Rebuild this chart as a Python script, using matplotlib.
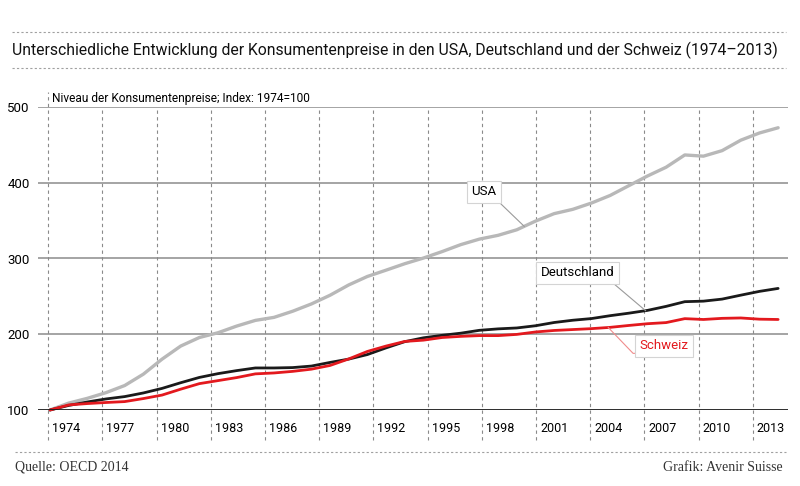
import matplotlib.pyplot as plt
import numpy as np
from matplotlib.lines import Line2D
from matplotlib.transforms import offset_copy

# Konsumentenpreise, Index 1974 = 100 (Quelle: OECD 2014)
years = np.arange(1974, 2014)
usa = [100, 109.1, 115.4, 122.9, 132.3, 147.3, 167.1, 184.4, 195.7, 202.0,
       210.8, 218.3, 222.3, 230.4, 240.0, 251.5, 265.1, 276.3, 284.6, 293.1,
       300.6, 309.1, 318.3, 325.6, 330.6, 337.9, 349.3, 359.2, 364.9, 373.2,
       383.2, 396.1, 408.9, 420.5, 436.7, 435.1, 442.4, 456.2, 465.7, 472.6]
deutschland = [100, 106.0, 110.6, 114.6, 117.7, 122.5, 128.5, 136.0, 143.0, 148.0,
               152.0, 155.5, 155.5, 156.0, 158.0, 162.8, 167.2, 173.2, 182.0, 190.2,
               195.3, 198.6, 201.4, 205.2, 207.1, 208.3, 211.2, 215.5, 218.5, 220.7,
               224.5, 227.8, 231.5, 236.8, 243.0, 243.7, 246.4, 251.6, 256.6, 260.5]
schweiz = [100, 106.7, 108.5, 109.9, 111.1, 115.1, 119.7, 127.5, 134.8, 138.8,
           142.8, 147.7, 148.9, 151.0, 153.9, 158.8, 167.4, 177.3, 184.4, 190.5,
           192.2, 195.7, 197.2, 198.2, 198.2, 199.8, 203.0, 205.0, 206.2, 207.4,
           209.1, 211.6, 213.9, 215.4, 220.6, 219.5, 221.0, 221.5, 219.9, 219.5]

tick_years = np.arange(1974, 2014, 3)
y_ticks = [100, 200, 300, 400, 500]

SANS = ['Roboto', 'DejaVu Sans']
SERIF = ['Liberation Serif', 'DejaVu Serif']

fig = plt.figure(figsize=(8, 4.86), dpi=100)
ax = fig.add_axes([38 / 800, 76 / 486, 750 / 800, 303 / 486])
ax.set_xlim(1974 - 12 / 18.67, 1974 + 738 / 18.67)
ax.set_ylim(100, 500)
for s in ax.spines.values():
    s.set_visible(False)

# the year labels in the original sit a little tighter than the data points
tick_pos = 1974 - 0.1 + (tick_years - 1974) * (18.07 / 18.67)

# --- grid ---
for v in y_ticks[1:]:
    ax.axhline(v, color='#8c8c8c', lw=1.1, zorder=1)
ax.vlines(tick_pos[1:], 60, 500, colors='#8a8a8a', lw=0.8,
          linestyles=(0, (3, 3)), clip_on=False, zorder=1)
ax.vlines(tick_pos[0], 60, 520, colors='#8a8a8a', lw=0.8,
          linestyles=(0, (3, 3)), clip_on=False, zorder=1)

# --- series ---
ax.plot(years, usa, color='#b8b8b8', lw=2.4, solid_capstyle='round', clip_on=False, zorder=3)
ax.plot(years, deutschland, color='#1a1a1a', lw=2.0, solid_capstyle='round', clip_on=False, zorder=4)
ax.plot(years, schweiz, color='#e3191e', lw=2.0, solid_capstyle='round', clip_on=False, zorder=4)
ax.axhline(100, color='#1a1a1a', lw=2.0, zorder=5)

# --- ticks ---
ax.set_xticks([])
ax.set_yticks(y_ticks)
ax.tick_params(axis='y', length=0, pad=6, labelsize=9.5)
for lab in ax.get_yticklabels():
    lab.set_family(SANS)
shifted = offset_copy(ax.transData, fig, x=4, y=0, units='dots')
for p, yr in zip(tick_pos, tick_years):
    ax.text(p, 76, str(yr), transform=shifted, ha='left', va='center',
            fontsize=9, family=SANS)

ax.text(tick_pos[0], 511, 'Niveau der Konsumentenpreise; Index: 1974=100',
        transform=shifted, ha='left', va='center', fontsize=8.6, family=SANS)

# --- labels with leader lines ---
box = dict(boxstyle='square,pad=0.35', fc='white', ec='#d4d4d4', lw=0.8)
ax.plot([1996.66, 1997.99, 1999.4], [375.9, 375.9, np.interp(1999.4, years, usa)],
        color='#9a9a9a', lw=0.8, zorder=6)
ax.text(1997.25, 387.8, 'USA', ha='center', va='center', fontsize=9.5,
        family=SANS, bbox=box, zorder=7)

ax.plot([2000.5, 2004.15, 2005.9], [267.7, 267.7, np.interp(2005.9, years, deutschland)],
        color='#9a9a9a', lw=0.8, zorder=6)
ax.text(2002.28, 280.9, 'Deutschland', ha='center', va='center', fontsize=9.5,
        family=SANS, bbox=box, zorder=7)

ax.plot([2008.17, 2005.23, 2003.9], [174.8, 174.8, np.interp(2003.9, years, schweiz)],
        color='#f08c8c', lw=0.8, zorder=6)
ax.text(2006.9, 184.5, 'Schweiz', ha='center', va='center', fontsize=9.5,
        family=SANS, color='#e3191e', bbox=box, zorder=7)

# --- title, separators, footer ---
fig.text(12 / 800, 1 - 50.7 / 486,
         'Unterschiedliche Entwicklung der Konsumentenpreise in den USA, '
         'Deutschland und der Schweiz (1974–2013)',
         fontsize=11.3, va='center', ha='left', family=SANS, color='#111111')
for y, x0 in [(32, 12), (68, 12), (452, 15)]:
    fig.add_artist(Line2D([x0 / 800, 786 / 800], [1 - y / 486, 1 - y / 486],
                          transform=fig.transFigure, color='#a0a0a0', lw=0.8,
                          linestyle=(0, (2, 2))))
fig.text(15 / 800, 1 - 467 / 486, 'Quelle: OECD 2014', fontsize=10,
         va='center', ha='left', family=SERIF, color='#333333')
fig.text(783 / 800, 1 - 467 / 486, 'Grafik: Avenir Suisse', fontsize=10,
         va='center', ha='right', family=SERIF, color='#333333')

fig.savefig('out.png', dpi=100)
